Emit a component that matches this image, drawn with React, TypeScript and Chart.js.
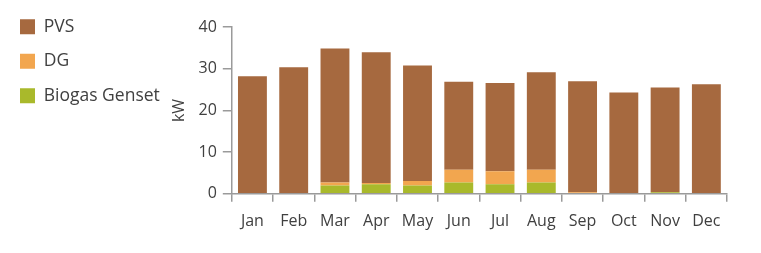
import React, { useEffect, useRef } from "react";
import { Chart, registerables } from "chart.js";

Chart.register(...registerables);

const months = ["Jan", "Feb", "Mar", "Apr", "May", "Jun", "Jul", "Aug", "Sep", "Oct", "Nov", "Dec"];
const pvs = [28.2, 30.4, 32.2, 31.4, 27.7, 21.1, 21.2, 23.4, 26.6, 24.3, 25.1, 26.3];
const dg = [0, 0, 0.7, 0.3, 1.1, 3.1, 3.1, 3.1, 0.4, 0, 0, 0];
const biogas = [0, 0, 2.0, 2.3, 2.0, 2.7, 2.3, 2.7, 0, 0, 0.4, 0];
const yTicks = [0, 10, 20, 30, 40];

const FONT = "'Open Sans', 'Noto Sans', sans-serif";
const TEXT = "#404040";
const AXIS = "#9a9a9a";

export default function App() {
  const ref = useRef<HTMLCanvasElement | null>(null);
  useEffect(() => {
    if (!ref.current) return;
    const chart = new Chart(ref.current, {
      type: "bar",
      data: {
        labels: months,
        datasets: [
          { label: "Biogas Genset", data: biogas, backgroundColor: "#A9B92B" },
          { label: "DG", data: dg, backgroundColor: "#F2A64F" },
          { label: "PVS", data: pvs, backgroundColor: "#A6693F" },
        ],
      },
      options: {
        animation: false,
        responsive: false,
        maintainAspectRatio: false,
        layout: { padding: { left: 3, right: 34, top: 1, bottom: 12 } },
        datasets: { bar: { barPercentage: 0.7, categoryPercentage: 1 } },
        plugins: {
          tooltip: { enabled: false },
          title: {
            display: true,
            text: "",
            fullSize: false,
            font: { size: 1 },
            padding: { top: 25, bottom: 0 },
          },
          legend: {
            position: "left",
            align: "start",
            reverse: true,
            labels: {
              boxWidth: 15,
              boxHeight: 15,
              padding: 17,
              color: TEXT,
              font: { family: FONT, size: 17.5 },
            },
          },
        },
        scales: {
          x: {
            stacked: true,
            border: { color: AXIS, width: 1.5 },
            grid: { drawOnChartArea: false, drawTicks: true, tickLength: 8, color: AXIS, lineWidth: 1.5 },
            ticks: { color: TEXT, font: { family: FONT, size: 16 }, padding: 10, maxRotation: 0, autoSkip: false },
          },
          y: {
            stacked: true,
            min: 0,
            max: 40,
            afterBuildTicks: (s: any) => {
              s.ticks = yTicks.map((v) => ({ value: v }));
            },
            afterFit: (s: any) => {
              s.width = 62;
            },
            border: { color: AXIS, width: 1.5 },
            grid: { drawOnChartArea: false, drawTicks: true, tickLength: 9, color: AXIS, lineWidth: 1.5 },
            ticks: { color: TEXT, font: { family: FONT, size: 16 }, padding: 6 },
            title: {
              display: true,
              text: "kW",
              color: TEXT,
              font: { family: FONT, size: 16 },
              padding: { top: 0, bottom: 4 },
            },
          },
        },
      },
    });
    return () => chart.destroy();
  }, []);
  return (
    <div style={{ position: "fixed", left: 0, top: 0, width: 761, height: 253, background: "#fff" }}>
      <canvas ref={ref} width={761} height={253} style={{ width: 761, height: 253 }} />
    </div>
  );
}
